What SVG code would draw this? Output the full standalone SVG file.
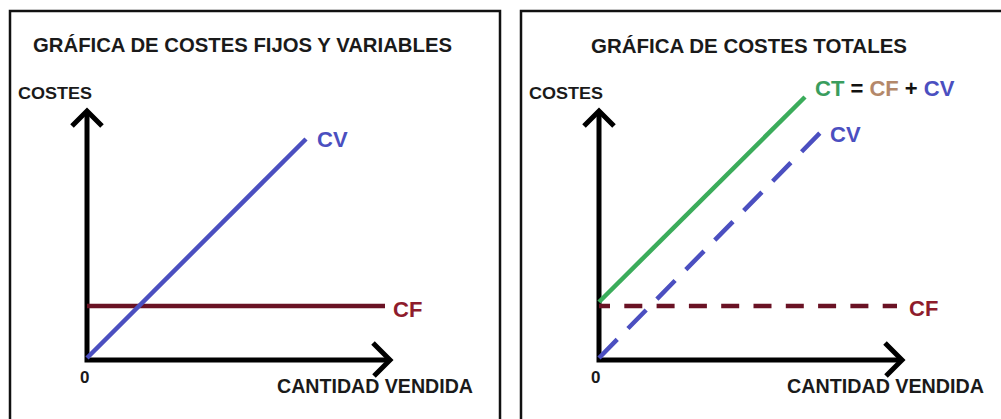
<svg xmlns="http://www.w3.org/2000/svg" width="1001" height="419" viewBox="0 0 1001 419">
<defs>
<style>
text{font-family:"Liberation Sans",Arial,sans-serif;font-weight:bold;}
.title{font-size:20px;fill:#1a1a1a;}
.ax{font-size:17px;fill:#1a1a1a;}
.zero{font-size:17px;fill:#1a1a1a;}
.lbl{font-size:22px;}
.frame{fill:none;stroke:#111;stroke-width:2.5;}
.axis{fill:none;stroke:#000;stroke-width:5;stroke-linejoin:miter;}
.cv{stroke:#4b4fc0;stroke-width:4.5;fill:none;}
.cf{stroke:#6a1224;stroke-width:4.5;fill:none;}
.ct{stroke:#3bac5b;stroke-width:4.5;fill:none;}
</style>
</defs>
<rect width="1001" height="419" fill="#fff"/>
<g id="panel-left">
<rect class="frame" x="10" y="11" width="490" height="430"/>
<text class="title" x="33" y="52" textLength="419" lengthAdjust="spacingAndGlyphs">GRÁFICA DE COSTES FIJOS Y VARIABLES</text>
<text class="ax" x="18" y="99" textLength="74" lengthAdjust="spacingAndGlyphs">COSTES</text>
<text class="zero" x="80" y="383">0</text>
<text class="title" x="277" y="393" textLength="196" lengthAdjust="spacingAndGlyphs">CANTIDAD VENDIDA</text>
</g>
<g id="panel-right">
<rect class="frame" x="521" y="11" width="500" height="430"/>
<text class="title" x="591" y="53" textLength="316" lengthAdjust="spacingAndGlyphs">GRÁFICA DE COSTES TOTALES</text>
<text class="ax" x="529" y="99" textLength="74" lengthAdjust="spacingAndGlyphs">COSTES</text>
<text class="zero" x="591" y="383">0</text>
<text class="title" x="787" y="393" textLength="197" lengthAdjust="spacingAndGlyphs">CANTIDAD VENDIDA</text>
</g>
<g id="connectors">
<polyline class="axis" points="87,112 87,360 388,360"/>
<polyline class="axis" points="72,126 87,111 102,126"/>
<polyline class="axis" points="373,343 390,360 374,376"/>
<line class="cf" x1="87" y1="306" x2="385" y2="306"/>
<line class="cv" x1="87" y1="358" x2="306" y2="139"/>
<polyline class="axis" points="599,112 599,360 900,360"/>
<polyline class="axis" points="584,126 599,111 614,126"/>
<polyline class="axis" points="885,343 902,360 886,376"/>
<line class="cf" x1="599" y1="306" x2="897" y2="306" stroke-dasharray="18 14.3" stroke-dashoffset="7"/>
<line class="cv" x1="599" y1="358" x2="820" y2="133" stroke-dasharray="26 15.3"/>
<line class="ct" x1="599" y1="302" x2="805" y2="97"/>
</g>
<g id="label-cv-left"><text class="lbl" x="317" y="147" fill="#4b4fc0">CV</text></g>
<g id="label-cf-left"><text class="lbl" x="393" y="317" fill="#8e1c2c">CF</text></g>
<g id="label-ct"><text class="lbl" x="815" y="96"><tspan fill="#3a9d5d">CT</tspan><tspan fill="#111"> = </tspan><tspan fill="#b4886a">CF</tspan><tspan fill="#111"> + </tspan><tspan fill="#4b4fc0">CV</tspan></text></g>
<g id="label-cv-right"><text class="lbl" x="830" y="142" fill="#4b4fc0">CV</text></g>
<g id="label-cf-right"><text class="lbl" x="909" y="316" fill="#8e1c2c">CF</text></g>
</svg>
